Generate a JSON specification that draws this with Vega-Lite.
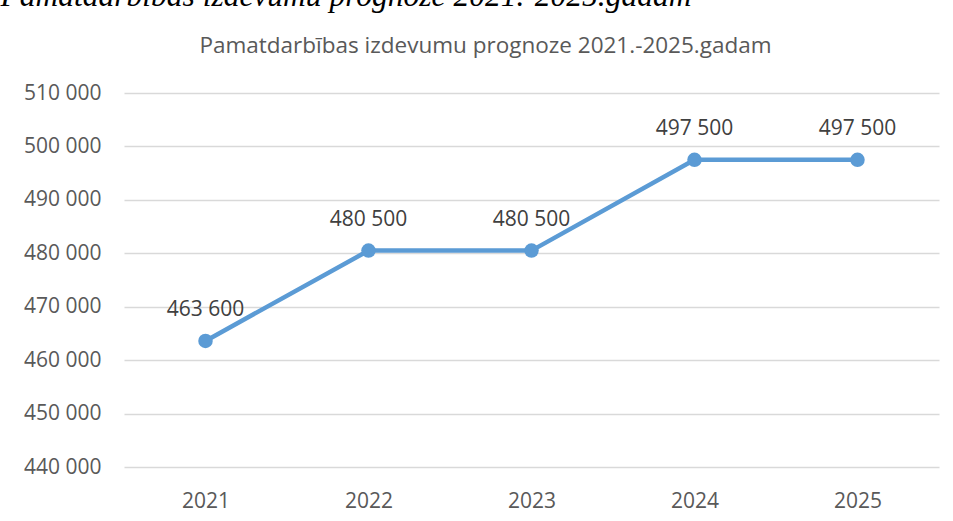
{
  "$schema": "https://vega.github.io/schema/vega-lite/v6.json",
  "width": 815,
  "height": 374,
  "autosize": "none",
  "padding": {"left": 124, "top": 93, "right": 14, "bottom": 54},
  "background": "white",
  "title": {
    "text": "Pamatdarbības izdevumu prognoze 2021.-2025.gadam",
    "anchor": "middle",
    "frame": "group",
    "dx": -46,
    "offset": -77,
    "font": "Open Sans",
    "fontSize": 22.5,
    "fontWeight": "normal",
    "color": "#595959"
  },
  "data": {
    "values": [
      {"year": "2021", "value": 463600},
      {"year": "2022", "value": 480500},
      {"year": "2023", "value": 480500},
      {"year": "2024", "value": 497500},
      {"year": "2025", "value": 497500}
    ]
  },
  "encoding": {
    "x": {
      "field": "year",
      "type": "ordinal",
      "scale": {"paddingInner": 0, "paddingOuter": 0.5},
      "axis": {
        "title": null,
        "labelAngle": 0,
        "domain": false,
        "ticks": false,
        "labelPadding": 23,
        "labelFont": "Open Sans",
        "labelFontSize": 21,
        "labelColor": "#595959"
      }
    },
    "y": {
      "field": "value",
      "type": "quantitative",
      "scale": {"domain": [440000, 510000], "nice": false, "zero": false},
      "axis": {
        "values": [440000, 450000, 460000, 470000, 480000, 490000, 500000, 510000],
        "format": ",d",
        "domain": false,
        "ticks": false,
        "labelPadding": 23,
        "labelFont": "Open Sans",
        "labelFontSize": 21,
        "labelColor": "#595959",
        "gridColor": "#d9d9d9",
        "gridWidth": 1.3,
        "title": "Pamatdarbības izdevumu prognoze 2021.-2025.gadam",
        "titleAngle": 0,
        "titleAlign": "left",
        "titleBaseline": "alphabetic",
        "titleX": -124,
        "titleY": -88,
        "titleFont": "Liberation Serif",
        "titleFontStyle": "italic",
        "titleFontWeight": "normal",
        "titleFontSize": 31.5,
        "titleColor": "#000000"
      }
    }
  },
  "layer": [
    {
      "mark": {"type": "line", "color": "#5b9bd5", "strokeWidth": 4.5, "strokeCap": "round"}
    },
    {
      "mark": {"type": "point", "filled": true, "color": "#5b9bd5", "size": 210, "opacity": 1}
    },
    {
      "mark": {"type": "text", "dy": -31, "baseline": "middle", "font": "Open Sans", "fontSize": 21, "color": "#404040"},
      "encoding": {
        "text": {"field": "value", "type": "quantitative", "format": ",d"}
      }
    }
  ],
  "config": {
    "view": {"stroke": null},
    "locale": {"number": {"decimal": ",", "thousands": " ", "grouping": [3], "currency": ["", " €"]}}
  }
}
